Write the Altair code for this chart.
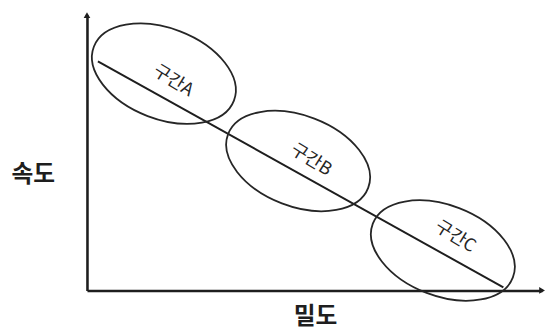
import altair as alt
import pandas as pd

# --- data (density = x, speed = y, both on a 0-100 scale) ---
ZONES = ["구간A", "구간B", "구간C"]
ELL_X = [16.9, 46.4, 78.2]
ELL_Y = [78.7, 47.0, 14.5]
LBL_X = [18.9, 49.2, 80.9]
LBL_Y = [76.0, 47.3, 19.4]
LINE_X = [2.4, 91.5]
LINE_Y = [83.2, 1.1]
ARROW_X = [0, 100]
ARROW_Y = [100, 0]
ARROW_SHAPE = ["triangle-up", "triangle-right"]

X_DOMAIN = [0, 100]
Y_DOMAIN = [0, 100]

FONT = "Noto Sans CJK KR"
INK = "#1e1e1e"

ellipses = pd.DataFrame({"zone": ZONES, "x": ELL_X, "y": ELL_Y})
labels = pd.DataFrame({"zone": ZONES, "x": LBL_X, "y": LBL_Y})
line = pd.DataFrame({"x": LINE_X, "y": LINE_Y})
arrows = pd.DataFrame({"x": ARROW_X, "y": ARROW_Y, "shape": ARROW_SHAPE})

xs = alt.Scale(domain=X_DOMAIN, nice=False, zero=False)
ys = alt.Scale(domain=Y_DOMAIN, nice=False, zero=False)

axis_common = dict(domain=True, ticks=False, labels=False, grid=False,
                   domainColor=INK, domainWidth=2.6,
                   titleFont=FONT, titleFontSize=24, titleFontWeight="bold",
                   titleColor=INK, titleAlign="center", titleBaseline="middle")

x_axis = alt.Axis(title="밀도", titleX=231, titleY=26, **axis_common)
y_axis = alt.Axis(title="속도", titleAngle=0, titleX=-55, titleY=162, **axis_common)

X = alt.X("x:Q", scale=xs, axis=x_axis)
Y = alt.Y("y:Q", scale=ys, axis=y_axis)

base_line = alt.Chart(line).mark_line(color=INK, strokeWidth=2).encode(x=X, y=Y)

ELLIPSE_PATH = "M -1 0 A 1 0.605 0 1 1 1 0 A 1 0.605 0 1 1 -1 0 Z"

ell = alt.Chart(ellipses).mark_point(
    shape=ELLIPSE_PATH, size=23104, angle=21, filled=False,
    color="#262626", strokeWidth=1.8, opacity=1,
).encode(x=X, y=Y)

txt = alt.Chart(labels).mark_text(
    font=FONT, fontSize=18, angle=32, color="#262626",
    align="center", baseline="middle",
).encode(x=X, y=Y, text="zone:N")

arr = alt.Chart(arrows).mark_point(filled=True, size=45, color=INK, opacity=1).encode(
    x=X, y=Y,
    shape=alt.Shape("shape:N", scale=None, legend=None),
)

chart = alt.layer(base_line, ell, txt, arr).properties(
    width=461, height=279,
    padding={"left": 80, "top": 5, "right": 5, "bottom": 40},
    autosize=alt.AutoSizeParams(type="none"),
    background="white",
).configure_view(strokeWidth=0)

chart.save("out.html", embed_options={"renderer": "svg", "actions": False})
